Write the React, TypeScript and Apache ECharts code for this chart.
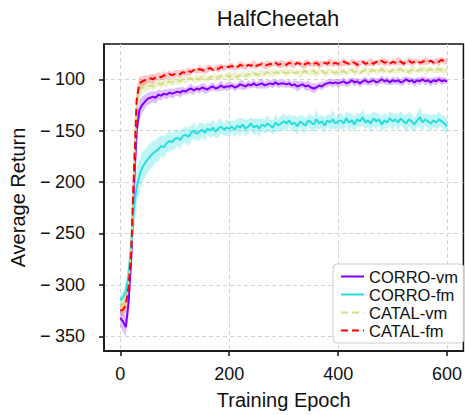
import React, { useEffect, useRef } from "react";
import * as echarts from "echarts";

const seriesNames = ["CORRO-vm", "CORRO-fm", "CATAL-vm", "CATAL-fm"];
const seriesColors = ["#8000ff", "#2adddd", "#d4dd80", "#ff0000"];
const bandColors = ["rgba(128,0,255,0.25)", "rgba(42,221,221,0.3)", "rgba(212,221,128,0.35)", "rgba(255,0,0,0.22)"];

const xTicks = [0, 200, 400, 600];
const yTicks = [-350, -300, -250, -200, -150, -100];

// epochs sampled every 5 from 0 to 600
const epochs: number[] = Array.from({ length: 121 }, (_, i) => i * 5);

const corroVm = [
  -332, -336, -341, -318, -275, -205, -150, -130, -125,
  -122, -119, -118, -117, -118, -115, -116, -114, -115, -113, -114, -113,
  -112, -113, -111, -112, -110, -109, -111, -109, -110, -108, -109, -110, -108, -107, -109, -108, -106, -108, -107, -107,
  -106, -108, -107, -105, -106, -107, -105, -106, -104, -106, -105, -104, -106, -105, -104, -105, -103, -105, -104, -104,
  -105, -104, -106, -105, -107, -106, -105, -107, -106, -108, -109, -108, -106, -107, -105, -104, -103, -104, -103, -104,
  -103, -102, -104, -103, -101, -103, -102, -104, -102, -101, -103, -102, -101, -103, -102, -100, -102, -101, -103, -101,
  -102, -101, -103, -102, -100, -102, -101, -103, -101, -102, -100, -102, -101, -103, -101, -102, -100, -102, -101, -102,
];
const corroVmSpread = [
  8, 10, 9, 14, 18, 20, 15, 10, 8,
  7, 6, 6, 5, 6, 5, 5, 4, 5, 4, 5, 4,
  4, 5, 4, 3, 4, 5, 4, 3, 4, 4, 5, 3, 4, 4, 3, 4, 5, 3, 4, 4,
  3, 4, 3, 4, 5, 3, 4, 3, 4, 3, 4, 5, 3, 4, 3, 4, 3, 4, 3, 4,
  3, 4, 3, 4, 5, 4, 3, 4, 5, 4, 5, 4, 3, 4, 3, 4, 3, 4, 3, 4,
  3, 4, 3, 4, 3, 4, 3, 4, 3, 4, 3, 4, 3, 4, 3, 4, 3, 4, 3, 4,
  3, 4, 3, 4, 3, 4, 3, 4, 3, 4, 3, 4, 3, 4, 3, 4, 3, 4, 3, 3,
];

const corroFm = [
  -315, -312, -307, -290, -262, -225, -205, -194, -186,
  -182, -178, -175, -172, -170, -168, -165, -166, -162, -160, -161, -158,
  -157, -159, -155, -154, -156, -152, -150, -153, -151, -149, -152, -148, -150, -147, -151, -148, -146, -149, -147, -148,
  -146, -149, -145, -147, -144, -148, -146, -143, -147, -145, -148, -144, -146, -143, -145, -147, -142, -145, -143, -141,
  -143, -140, -144, -142, -146, -141, -143, -145, -140, -142, -144, -139, -143, -141, -145, -140, -142, -139, -143, -141,
  -140, -143, -138, -142, -140, -144, -139, -141, -137, -142, -140, -143, -138, -141, -139, -144, -140, -142, -138, -141,
  -139, -142, -138, -141, -143, -139, -141, -144, -140, -137, -142, -139, -141, -143, -140, -142, -139, -141, -143, -146,
];
const corroFmSpread = [
  6, 6, 8, 15, 22, 20, 18, 16, 15,
  14, 13, 13, 12, 11, 12, 10, 11, 9, 10, 8, 9,
  8, 9, 7, 8, 9, 7, 8, 6, 9, 7, 8, 6, 7, 8, 6, 9, 7, 6, 8, 7,
  6, 8, 7, 9, 6, 8, 7, 6, 8, 7, 9, 6, 7, 8, 6, 7, 9, 6, 7, 8,
  7, 6, 8, 7, 9, 6, 8, 7, 6, 8, 7, 9, 6, 7, 8, 6, 7, 9, 6, 7,
  8, 6, 7, 9, 6, 8, 7, 6, 8, 7, 6, 9, 7, 8, 6, 7, 8, 6, 7, 8,
  6, 8, 7, 6, 9, 7, 8, 6, 7, 10, 8, 6, 7, 8, 6, 7, 8, 6, 7, 8,
];

const catalVm = [
  -320, -321, -318, -300, -265, -190, -128, -110, -108,
  -108, -107, -106, -107, -105, -104, -105, -103, -104, -102, -103, -102,
  -101, -102, -100, -101, -100, -99, -101, -99, -100, -98, -99, -100, -98, -97, -99, -98, -97, -98, -96, -98,
  -97, -96, -98, -96, -95, -97, -95, -96, -94, -96, -95, -94, -95, -93, -95, -94, -93, -94, -92, -93,
  -94, -93, -92, -94, -93, -95, -93, -92, -94, -93, -92, -94, -93, -92, -94, -93, -92, -93, -94, -92,
  -93, -92, -94, -92, -91, -93, -92, -94, -92, -91, -93, -92, -91, -93, -92, -90, -92, -91, -93, -91,
  -92, -91, -90, -92, -91, -93, -91, -90, -92, -91, -90, -92, -91, -90, -92, -91, -90, -91, -92, -91,
];
const catalVmSpread = [
  6, 7, 7, 14, 20, 20, 12, 7, 6,
  5, 5, 4, 4, 4, 3, 4, 3, 4, 3, 4, 3,
  4, 3, 3, 4, 3, 2, 3, 4, 3, 3, 4, 3, 2, 3, 4, 3, 3, 2, 3, 4,
  3, 3, 4, 2, 3, 3, 4, 3, 2, 3, 4, 3, 3, 2, 3, 4, 3, 3, 2, 3,
  4, 3, 3, 2, 3, 4, 3, 3, 2, 3, 4, 3, 3, 2, 3, 4, 3, 2, 3, 3,
  4, 3, 2, 3, 3, 4, 3, 2, 3, 3, 4, 3, 2, 3, 3, 4, 3, 3, 2, 3,
  3, 4, 3, 2, 3, 3, 4, 3, 2, 3, 3, 4, 3, 3, 2, 3, 4, 3, 3, 3,
];

const catalFm = [
  -325, -324, -320, -302, -268, -190, -120, -104, -102,
  -101, -100, -99, -100, -98, -97, -98, -96, -97, -95, -96, -95,
  -94, -95, -93, -94, -92, -93, -91, -92, -90, -91, -92, -90, -89, -91, -89, -90, -88, -89, -88, -88,
  -87, -89, -88, -86, -87, -88, -86, -87, -85, -87, -86, -85, -87, -86, -85, -86, -84, -86, -85, -85,
  -86, -84, -85, -86, -84, -85, -87, -85, -84, -86, -85, -84, -86, -85, -84, -85, -83, -85, -84, -85,
  -85, -83, -84, -85, -83, -84, -86, -84, -83, -85, -84, -83, -85, -83, -84, -82, -84, -83, -85, -83,
  -84, -82, -83, -85, -83, -82, -84, -83, -82, -84, -83, -82, -83, -82, -84, -82, -83, -81, -83, -82,
];
const catalFmSpread = [
  6, 6, 7, 14, 20, 22, 12, 7, 5,
  5, 4, 4, 5, 3, 4, 3, 4, 3, 4, 3, 4,
  3, 4, 3, 3, 4, 3, 2, 3, 4, 3, 3, 4, 3, 2, 3, 4, 3, 3, 2, 3,
  3, 2, 3, 4, 3, 3, 2, 3, 4, 3, 2, 3, 3, 4, 3, 2, 3, 3, 4, 3,
  3, 3, 4, 3, 2, 3, 3, 4, 3, 2, 3, 3, 4, 3, 2, 3, 4, 3, 3, 2,
  3, 4, 3, 2, 3, 3, 4, 3, 2, 3, 3, 4, 3, 2, 3, 3, 4, 3, 2, 3,
  3, 4, 3, 3, 2, 3, 4, 3, 2, 3, 3, 4, 3, 2, 3, 3, 4, 3, 3, 3,
];

const means = [corroVm, corroFm, catalVm, catalFm];
const spreads = [corroVmSpread, corroFmSpread, catalVmSpread, catalFmSpread];
const dashed = [false, false, true, true];

const FONT = "'Liberation Sans', Arial, Helvetica, sans-serif";

export default function App() {
  const ref = useRef<HTMLDivElement>(null);
  useEffect(() => {
    if (!ref.current) return;
    const chart = echarts.init(ref.current, undefined, { renderer: "svg" });
    const series: any[] = [];
    means.forEach((m, k) => {
      const sp = spreads[k];
      series.push({
        type: "custom",
        name: seriesNames[k] + " band",
        silent: true,
        z: 1,
        encode: { x: 0, y: 1 },
        data: epochs.map((e, i) => [e, m[i]]),
        renderItem: (params: any, api: any) => {
          if (params.dataIndex !== 0) return null;
          const pts: number[][] = [];
          for (let i = 0; i < epochs.length; i++) pts.push(api.coord([epochs[i], m[i] + sp[i]]));
          for (let i = epochs.length - 1; i >= 0; i--) pts.push(api.coord([epochs[i], m[i] - sp[i]]));
          return {
            type: "polygon",
            shape: { points: pts },
            style: { fill: bandColors[k], stroke: "none" },
          };
        },
      });
    });
    means.forEach((m, k) => {
      series.push({
        type: "line",
        name: seriesNames[k],
        symbol: "none",
        showSymbol: false,
        color: seriesColors[k],
        lineStyle: {
          color: seriesColors[k],
          width: 2,
          type: dashed[k] ? [7, 4] : "solid",
        },
        data: epochs.map((e, i) => [e, m[i]]),
        z: 3 + k,
      });
    });

    chart.setOption({
      animation: false,
      backgroundColor: "#ffffff",
      textStyle: { fontFamily: FONT },
      title: {
        text: "HalfCheetah",
        left: 278,
        textAlign: "center",
        top: 7,
        padding: 0,
        textStyle: { fontFamily: FONT, fontSize: 22, fontWeight: "normal", color: "#111" },
      },
      grid: {
        left: 102,
        right: -7,
        top: 44,
        bottom: 415 - 351,
        show: true,
        borderColor: "#111",
        borderWidth: 1.5,
        backgroundColor: "transparent",
      },
      legend: {
        data: seriesNames,
        orient: "vertical",
        left: 333,
        top: 264,
        padding: [4, 6, 4, 7],
        itemGap: 1,
        itemWidth: 23,
        itemHeight: 12,
        itemStyle: { opacity: 0 },
        borderColor: "#cccccc",
        borderWidth: 1,
        borderRadius: 4,
        backgroundColor: "rgba(255,255,255,0.85)",
        textStyle: { fontFamily: FONT, fontSize: 16.5, color: "#111", lineHeight: 17 },
      },
      xAxis: {
        type: "value",
        min: -30,
        max: 630,
        name: "Training Epoch",
        nameLocation: "middle",
        nameGap: 39,
        nameTextStyle: { fontFamily: FONT, fontSize: 20, color: "#111" },
        axisLine: { show: true, onZero: false, lineStyle: { color: "#111", width: 1.5 } },
        axisTick: { show: true, length: 5, customValues: xTicks, lineStyle: { color: "#111", width: 1.5 } },
        axisLabel: { customValues: xTicks, margin: 14, fontSize: 18, color: "#111", fontFamily: FONT },
        splitLine: { show: true, lineStyle: { color: "#d3d3d3", type: [4, 3], width: 1 } },
      },
      yAxis: {
        type: "value",
        min: -364.3,
        max: -65.7,
        name: "Average Return",
        nameLocation: "middle",
        nameGap: 76,
        nameTextStyle: { fontFamily: FONT, fontSize: 20, color: "#111" },
        axisLine: { show: true, onZero: false, lineStyle: { color: "#111", width: 1.5 } },
        axisTick: { show: true, length: 5, customValues: yTicks, lineStyle: { color: "#111", width: 1.5 } },
        axisLabel: {
          customValues: yTicks,
          margin: 19,
          fontSize: 18,
          color: "#111",
          fontFamily: FONT,
          formatter: (v: number) => (v < 0 ? "\u2212\u2005" + Math.abs(v) : String(v)),
        },
        splitLine: { show: true, lineStyle: { color: "#d3d3d3", type: [4, 3], width: 1 } },
      },
      series,
    });
    return () => chart.dispose();
  }, []);
  return (
    <div
      ref={ref}
      style={{ position: "fixed", left: 0, top: 0, width: 465, height: 415, background: "#fff" }}
    />
  );
}
